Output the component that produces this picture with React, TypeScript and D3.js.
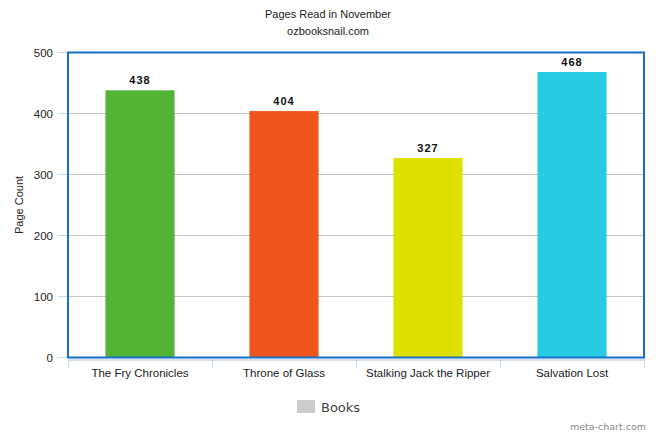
import React from "react";
import * as d3 from "d3";

const categories = ["The Fry Chronicles", "Throne of Glass", "Stalking Jack the Ripper", "Salvation Lost"];
const values = [438, 404, 327, 468];
const barColors = ["#52b334", "#ee561e", "#dee000", "#27cbe4"];
const yTicks = [0, 100, 200, 300, 400, 500];
const title = "Pages Read in November";
const subtitle = "ozbooksnail.com";
const yLabel = "Page Count";
const legendLabel = "Books";

export default function App() {
  const W = 656, H = 437;
  const left = 68, right = 644, top = 52.5, bottom = 357.5;
  const x = d3.scaleBand<string>().domain(categories).range([left, right]).paddingInner(0.52).paddingOuter(0.26);
  const xb = d3.scaleBand<string>().domain(categories).range([left, right]);
  const y = d3.scaleLinear().domain([0, 500]).range([bottom, top]);
  const font = "Liberation Sans, Arial, sans-serif";
  return (
    <svg width={W} height={H} style={{ position: "absolute", left: 0, top: 0, background: "#fff" }}>
      <text x={328} y={18} textAnchor="middle" fontFamily={font} fontSize={11} fill="#222">{title}</text>
      <text x={328} y={35} textAnchor="middle" fontFamily={font} fontSize={11} fill="#222">{subtitle}</text>
      {yTicks.map((t) => (
        <g key={t}>
          <line x1={left} x2={right} y1={y(t)} y2={y(t)} stroke="#c4c4c4" strokeWidth={1} />
          <line x1={58} x2={left} y1={y(t)} y2={y(t)} stroke="#c8d6e6" strokeWidth={1} />
          <text x={53} y={y(t) + 4} textAnchor="end" fontFamily={font} fontSize={11.5} fill="#222">{t}</text>
        </g>
      ))}
      <text transform={`translate(23,${(top + bottom) / 2}) rotate(-90)`} textAnchor="middle" fontFamily={font} fontSize={11} fill="#222">{yLabel}</text>
      {categories.map((c, i) => (
        <g key={c}>
          <rect x={x(c)} y={y(values[i])} width={x.bandwidth()} height={bottom - y(values[i])} fill={barColors[i]} />
          <text x={x(c)! + x.bandwidth() / 2} y={y(values[i]) - 6} textAnchor="middle" fontFamily={font} fontSize={11} fontWeight="bold" letterSpacing={1} fill="#111">{values[i]}</text>
          <text x={xb(c)! + xb.bandwidth() / 2} y={377} textAnchor="middle" fontFamily={font} fontSize={11.5} fill="#222">{c}</text>
        </g>
      ))}
      <line x1={left} x2={right + 1} y1={360} y2={360} stroke="#c8d6e6" strokeWidth={1.5} />
      {[...categories.map((c) => xb(c)!), right].map((v, i) => (
        <line key={i} x1={v + 0.5} x2={v + 0.5} y1={360} y2={368} stroke="#c8d6e6" strokeWidth={1} />
      ))}
      <rect x={left} y={top} width={right - left} height={bottom - top} fill="none" stroke="#1571c8" strokeWidth={2} />
      <rect x={297} y={400} width={18} height={13} fill="#cccccc" />
      <text x={321} y={412} fontFamily="DejaVu Sans, sans-serif" fontSize={13} fill="#444">{legendLabel}</text>
      <text x={646} y={430} textAnchor="end" fontFamily="DejaVu Sans, sans-serif" fontSize={9.5} fill="#888">meta-chart.com</text>
    </svg>
  );
}
